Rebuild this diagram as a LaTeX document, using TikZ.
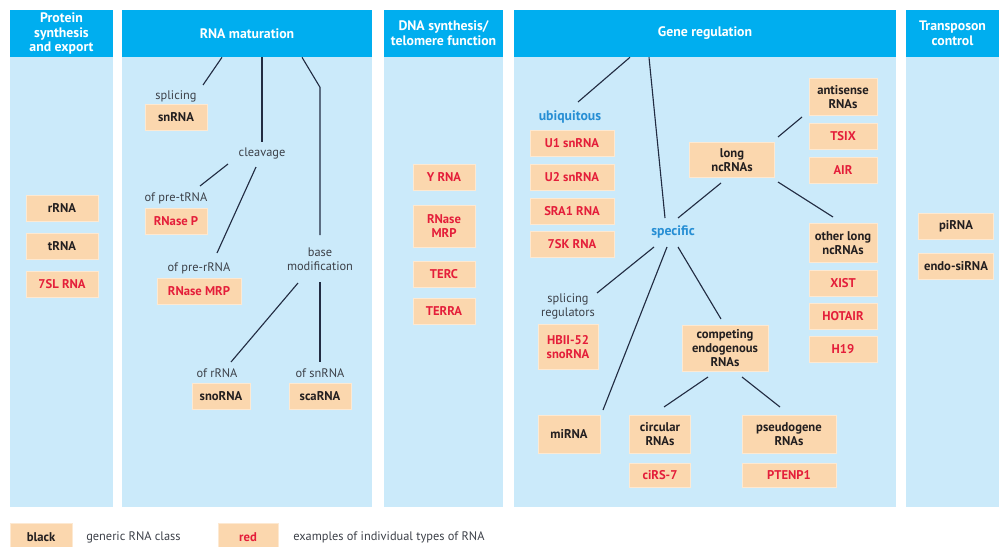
\documentclass[tikz,border=0pt]{standalone}
\usepackage{fontspec}
\setmainfont{PT Sans}
\usepackage{xcolor}
\usepackage{tikz}
\usetikzlibrary{calc,positioning}
\definecolor{hdrcyan}{RGB}{0,174,239}
\definecolor{colbody}{RGB}{203,234,250}
\definecolor{boxpeach}{RGB}{251,215,174}
\definecolor{inkred}{RGB}{228,30,58}
\definecolor{inkblue}{RGB}{38,142,212}
\definecolor{inkblack}{RGB}{35,31,32}
\definecolor{labgray}{RGB}{60,64,72}
\definecolor{linknavy}{RGB}{34,44,66}
\newlength\px
\setlength\px{0.025cm}
\tikzset{
  hdr/.style={fill=hdrcyan, text=white, font=\fontsize{9.8}{10.4}\selectfont\bfseries, align=center, inner sep=0pt, minimum height=47\px, minimum width=#1\px},
  rnabox/.style={rectangle, fill=boxpeach, draw=white!45!boxpeach, line width=0.6pt, font=\fontsize{9}{10}\selectfont\bfseries, align=center, inner sep=1pt, minimum height=26\px},
  gbox/.style={rnabox, text=inkblack, minimum width=#1\px},
  gbox/.default=72,
  rbox/.style={rnabox, text=inkred, minimum width=#1\px},
  rbox/.default=72,
  lbl/.style={font=\fontsize{8.8}{10}\selectfont, text=labgray, align=center, inner sep=0pt},
  sublbl/.style={font=\fontsize{9.8}{11}\selectfont\bfseries, text=inkblue, inner sep=0pt},
  link/.style={draw=linknavy, line width=0.8pt}
}

\begin{document}
\begin{tikzpicture}[x=0.025cm, y=-0.025cm]
\useasboundingbox (0,0) rectangle (999,546);
% column bodies
\foreach \l/\r in {10/113, 122/372, 384/503, 514/896, 906/999}
  \fill[colbody] (\l,57) rectangle (\r,507);
% headers
\node[hdr=103] (hprot) at (61.5,33.5) {Protein\\synthesis\\and export};
\node[hdr=250] (hmat) at (247,33.5) {RNA maturation};
\node[hdr=119] (hdna) at (443.5,33.5) {DNA synthesis/\\telomere function};
\node[hdr=382] (hgene) at (705,33.5) {Gene regulation};
\node[hdr=93] (htrans) at (952.5,33.5) {Transposon\\control};

% protein synthesis and export
\node[gbox] (rrna) at (62,208) {rRNA};
\node[gbox] (trna) at (62,246) {tRNA};
\node[rbox] (sevensl) at (62,284) {7SL RNA};

% RNA maturation
\node[lbl] (splice) at (176,96) {splicing};
\node[gbox=62] (snrna) at (176,117) {snRNA};
\node[lbl] (cleav) at (262,153) {cleavage};
\node[lbl] (pretrna) at (176,198) {of pre-tRNA};
\node[rbox=62] (rnasep) at (176,221) {RNase P};
\node[lbl] (prerrna) at (199,268) {of pre-rRNA};
\node[rbox=84] (rnasemrp) at (199,291) {RNase MRP};
\node[lbl] (basemod) at (320,259.5) {base\\modification};
\node[lbl] (ofrrna) at (217,373) {of rRNA};
\node[gbox=58] (snorna) at (221,396) {snoRNA};
\node[lbl] (ofsnrna) at (320,373) {of snRNA};
\node[gbox=62] (scarna) at (320,396) {scaRNA};

\draw[link] ([shift={(-25,0)}]hmat.south) -- ([shift={(27,-11)}]splice.center);
\draw[link] ([shift={(15,0)}]hmat.south) -- ([shift={(0,-11)}]cleav.center);
\draw[link] ([shift={(55,0)}]hmat.south) -- ++(18,30) -- ([shift={(0,-24.5)}]basemod.center);
\draw[link] ([shift={(-34,11)}]cleav.center) -- ([shift={(24,-12)}]pretrna.center);
\draw[link] ([shift={(-6,14)}]cleav.center) -- ([shift={(18,-15)}]prerrna.center);
\draw[link] ([shift={(-22,23.5)}]basemod.center) -- ([shift={(14,-11)}]ofrrna.center);
\draw[link] ([shift={(0,22.5)}]basemod.center) -- ([shift={(0,-11)}]ofsnrna.center);

% DNA synthesis / telomere function
\node[rbox=62] (yrna) at (444,177) {Y RNA};
\node[rbox=62, minimum height=42\px] (mrpdna) at (444,226) {RNase\\MRP};
\node[rbox=62] (terc) at (444,274) {TERC};
\node[rbox=62] (terra) at (444,311) {TERRA};

% gene regulation
\node[sublbl] (ubiq) at (570,117) {ubiquitous};
\node[rbox=84] (uone) at (572,143) {U1 snRNA};
\node[rbox=84] (utwo) at (572,177) {U2 snRNA};
\node[rbox=84] (sraone) at (572,211) {SRA1 RNA};
\node[rbox=84] (sevensk) at (572,244) {7SK RNA};
\node[sublbl] (specific) at (673,232) {specific};
\node[gbox=85, minimum height=35\px] (longnc) at (732,160) {long\\ncRNAs};
\node[gbox=68, minimum height=37\px] (antisense) at (843,97) {antisense\\RNAs};
\node[rbox=68] (tsix) at (843,136) {TSIX};
\node[rbox=68] (air) at (843,170) {AIR};
\node[gbox=68, minimum height=39\px] (otherlong) at (843,243) {other long\\ncRNAs};
\node[rbox=68] (xist) at (843,283) {XIST};
\node[rbox=68] (hotair) at (843,316) {HOTAIR};
\node[rbox=68] (hnineteen) at (843,349) {H19};
\node[lbl] (splreg) at (568,306) {splicing\\regulators};
\node[rbox=60, minimum height=45\px] (hbii) at (568,347) {HBII-52\\snoRNA};
\node[gbox=86, minimum height=46\px] (competing) at (725,348) {competing\\endogenous\\RNAs};
\node[gbox=62, minimum height=38\px] (mirna) at (569,434) {miRNA};
\node[gbox=61, minimum height=38\px] (circular) at (660,434) {circular\\RNAs};
\node[rbox=61, minimum height=24\px] (cirs) at (660,475) {ciRS-7};
\node[gbox=94, minimum height=38\px] (pseudo) at (789,434) {pseudogene\\RNAs};
\node[rbox=94, minimum height=24\px] (ptenp) at (789,475) {PTENP1};

\draw[link] ([shift={(-75,0)}]hgene.south) -- ([shift={(8,-15)}]ubiq.center);
\draw[link] ([shift={(-56,0)}]hgene.south) -- ([shift={(-8,-14)}]specific.center);
\draw[link] ([shift={(5,-14)}]specific.center) -- ([shift={(-11,23)}]longnc.center);
\draw[link] ([shift={(46,-23)}]longnc.center) -- ([shift={(-41,20)}]antisense.center);
\draw[link] ([shift={(46,22)}]longnc.center) -- ([shift={(-10,-26)}]otherlong.center);
\draw[link] ([shift={(-19,15)}]specific.center) -- ([shift={(29,-13)}]splreg.center);
\draw[link] ([shift={(-6,15)}]specific.center) -- ([shift={(34,-24)}]mirna.center);
\draw[link] ([shift={(5,15)}]specific.center) -- ([shift={(-4,-29)}]competing.center);
\draw[link] ([shift={(-17,29)}]competing.center) -- ([shift={(4,-27)}]circular.center);
\draw[link] ([shift={(17,29)}]competing.center) -- ([shift={(-9,-27)}]pseudo.center);

% transposon control
\node[gbox=75] (pirna) at (956,226) {piRNA};
\node[gbox=75] (endosi) at (956,266) {endo-siRNA};

% legend
\node[gbox=62, minimum height=28\px] (legblack) at (41,537) {black};
\node[lbl, anchor=west] (leggeneric) at (86,537) {generic RNA class};
\node[rbox=60, minimum height=28\px] (legred) at (248,537) {red};
\node[lbl, anchor=west] (legexample) at (293,537) {examples of individual types of RNA};
\end{tikzpicture}
\end{document}
